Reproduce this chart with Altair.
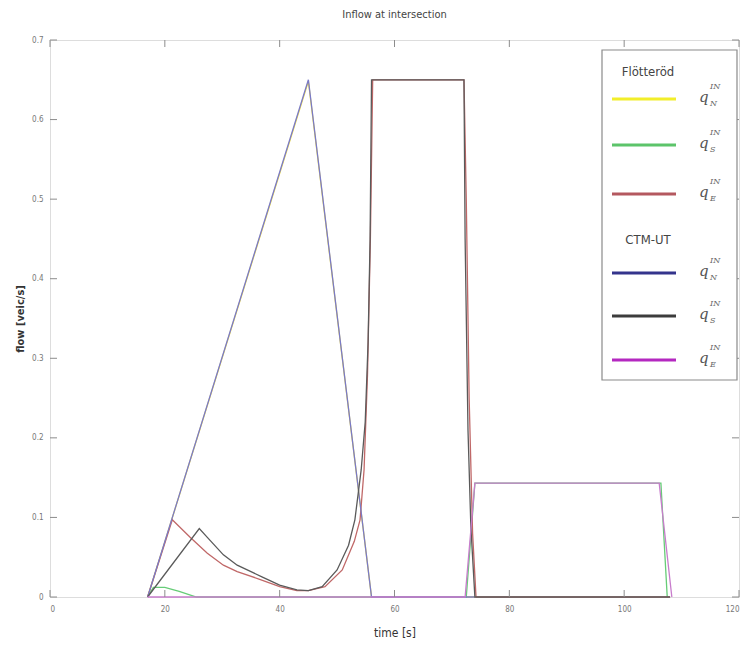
import altair as alt
import pandas as pd

# ---------------- data ----------------
x_ticks = [0, 20, 40, 60, 80, 100, 120]
y_ticks = [0, 0.1, 0.2, 0.3, 0.4, 0.5, 0.6, 0.7]

# Flötteröd
flot_N_t = [17, 45, 56, 74]
flot_N_v = [0, 0.648, 0, 0]
flot_S_t = [17, 18, 20, 22.5, 25.5, 72.5, 74, 106.4, 107.5]
flot_S_v = [0, 0.012, 0.012, 0.007, 0, 0, 0.143, 0.143, 0]
flot_E_t = [17, 21.3, 24.4, 27.4, 30.2, 32.6, 37, 40, 43, 45, 47.9, 50.9, 53,
            54, 54.7, 55.3, 55.8, 56.2, 72.1, 72.5, 73, 73.6, 74.2, 108]
flot_E_v = [0, 0.097, 0.075, 0.055, 0.040, 0.032, 0.021, 0.013, 0.008, 0.008,
            0.013, 0.034, 0.070, 0.097, 0.16, 0.28, 0.45, 0.65, 0.65, 0.50,
            0.25, 0.08, 0, 0]
# CTM-UT
ctm_N_t = [17, 45, 56, 74]
ctm_N_v = [0, 0.65, 0, 0]
ctm_S_t = [17, 26, 27.4, 30.2, 32.6, 37, 40, 43, 45, 47.4, 50, 52, 53.1, 54.2,
           54.9, 55.4, 55.75, 56, 72.1, 72.3, 72.8, 73.3, 74, 108]
ctm_S_v = [0, 0.086, 0.075, 0.053, 0.040, 0.025, 0.015, 0.009, 0.008, 0.013,
           0.034, 0.065, 0.097, 0.16, 0.22, 0.32, 0.45, 0.65, 0.65, 0.45,
           0.21, 0.088, 0, 0]
ctm_E_t = [17, 72.3, 74, 106.1, 108.3]
ctm_E_v = [0, 0, 0.143, 0.143, 0]

groups = ["Flötteröd", "CTM-UT"]
series = [
    ("Flötteröd", "N", flot_N_t, flot_N_v),
    ("Flötteröd", "S", flot_S_t, flot_S_v),
    ("Flötteröd", "E", flot_E_t, flot_E_v),
    ("CTM-UT", "N", ctm_N_t, ctm_N_v),
    ("CTM-UT", "S", ctm_S_t, ctm_S_v),
    ("CTM-UT", "E", ctm_E_t, ctm_E_v),
]

# ---------------- styles ----------------
line_colors = ["#f0e040", "#66cc77", "#c06868", "#7a7ac8", "#5a5a5a", "#c87ccc"]
legend_colors = ["#f2ee2a", "#5cc46a", "#b4585f", "#34348c", "#3c3c3c", "#b428c0"]
FONT = "Liberation Sans Narrow, DejaVu Sans Condensed, Liberation Sans"
GRID = "#8c8c8c"

W, H = 689, 557

xscale = alt.Scale(domain=[0, 120], nice=False, zero=False)
yscale = alt.Scale(domain=[0, 0.7], nice=False)

x_enc = alt.X("t:Q", scale=xscale,
              axis=alt.Axis(values=x_ticks, ticks=False, domain=False, grid=False,
                            labelFontSize=8, labelColor="#777", labelFont=FONT,
                            labelPadding=8, title="time [s]", titleFontSize=12,
                            titleFont=FONT, titleFontWeight="normal",
                            titleColor="#333", titlePadding=14))
y_enc = alt.Y("v:Q", scale=yscale,
              axis=alt.Axis(values=y_ticks, ticks=False, domain=False, grid=False,
                            labelFontSize=8, labelColor="#777", labelFont=FONT,
                            labelPadding=7,
                            labelExpr="datum.value == 0 ? '0' : format(datum.value, '.1f')",
                            title="flow [veic/s]", titleFontSize=11, titleFont=FONT,
                            titleFontWeight="bold", titleColor="#333", titlePadding=6))

layers = []
for (grp, sub, ts, vs), col in zip(series, line_colors):
    df = pd.DataFrame({"t": ts, "v": vs})
    layers.append(alt.Chart(df).mark_line(color=col, strokeWidth=1.3).encode(x=x_enc, y=y_enc))

# inward ticks on all four sides
xt = pd.DataFrame({"t": x_ticks})
yt = pd.DataFrame({"v": y_ticks})
TL = 7
layers.append(alt.Chart(xt).mark_rule(color=GRID, strokeWidth=1).encode(
    x=x_enc, y=alt.value(H), y2=alt.value(H - TL)))
layers.append(alt.Chart(xt).mark_rule(color=GRID, strokeWidth=1).encode(
    x=x_enc, y=alt.value(0), y2=alt.value(TL)))
layers.append(alt.Chart(yt).mark_rule(color=GRID, strokeWidth=1).encode(
    y=y_enc, x=alt.value(0), x2=alt.value(TL)))
layers.append(alt.Chart(yt).mark_rule(color=GRID, strokeWidth=1).encode(
    y=y_enc, x=alt.value(W), x2=alt.value(W - TL)))

# ---------------- manual legend ----------------
one = alt.Data(values=[{"a": 1}])
BX0, BX1, BY0, BY1 = 552, 687, 10, 340
layers.append(alt.Chart(one).mark_rect(fill="white", stroke="#8a8a8a", strokeWidth=1.2).encode(
    x=alt.value(BX0), x2=alt.value(BX1), y=alt.value(BY0), y2=alt.value(BY1)))

header_y = [32, 200]
row_y = [59, 105, 154, 233, 276, 320]
for gi, g in enumerate(groups):
    layers.append(alt.Chart(one).mark_text(text=g, font=FONT, fontSize=13, color="#444",
                                           align="center", baseline="middle").encode(
        x=alt.value(598), y=alt.value(header_y[gi])))
for i, (grp, sub, ts, vs) in enumerate(series):
    ry = row_y[i]
    layers.append(alt.Chart(one).mark_rule(color=legend_colors[i], strokeWidth=3).encode(
        x=alt.value(562), x2=alt.value(626), y=alt.value(ry)))
    layers.append(alt.Chart(one).mark_text(text="q", font="DejaVu Serif", fontStyle="italic",
                                           fontSize=15, color="#555", align="left",
                                           baseline="middle").encode(
        x=alt.value(649), y=alt.value(ry - 2)))
    layers.append(alt.Chart(one).mark_text(text="IN", font="DejaVu Serif", fontStyle="italic",
                                           fontSize=8, color="#666", align="left",
                                           baseline="middle").encode(
        x=alt.value(660), y=alt.value(ry - 12)))
    layers.append(alt.Chart(one).mark_text(text=sub, font="DejaVu Serif", fontStyle="italic",
                                           fontSize=8, color="#666", align="left",
                                           baseline="middle").encode(
        x=alt.value(660), y=alt.value(ry + 5)))

chart = alt.layer(*layers).properties(
    width=W, height=H,
    title=alt.TitleParams("Inflow at intersection", fontSize=11, fontWeight="normal",
                          font=FONT, color="#444", offset=16),
    padding={"left": 50, "top": 40, "right": 13, "bottom": 71},
    autosize=alt.AutoSizeParams(type="none"),
).configure_view(stroke=GRID, strokeWidth=1.5).configure(background="white")

chart.save("out.html", embed_options={"renderer": "svg", "actions": False})
